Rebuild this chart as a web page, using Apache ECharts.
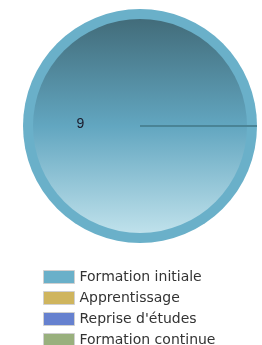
<!DOCTYPE html>
<html>
<head>
<meta charset="utf-8">
<script src="https://cdn.jsdelivr.net/npm/echarts@6/dist/echarts.min.js"></script>
<style>
  html, body { margin: 0; padding: 0; background: #fff; }
  #chart { width: 262px; height: 345px; }
</style>
</head>
<body>
<div id="chart"></div>
<script>
var categories = ['Formation initiale', 'Apprentissage', "Reprise d'études", 'Formation continue'];
var values = [9, 0, 0, 0];
var colors = ['#6ab0c9', '#cfb55e', '#6681cf', '#99b07d'];

document.addEventListener('DOMContentLoaded', function()
{
  var chart = echarts.init(document.getElementById('chart'));

  var gradient = new echarts.graphic.LinearGradient(0, 0, 0, 1, [
    { offset: 0, color: '#426c7a' },
    { offset: 0.5, color: '#62a6c0' },
    { offset: 1, color: '#bfe1eb' }
  ]);

  // outer ring, carries the legend colours
  var ringData = categories.map(function(name, i) {
    return {
      name: name,
      value: values[i],
      itemStyle: {
        color: colors[i],
        borderColor: values[i] === 0 ? '#4b8395' : 'transparent',
        borderWidth: values[i] === 0 ? 1 : 0
      }
    };
  });

  // inner disc with the gradient
  var discData = categories.map(function(name, i) {
    return {
      name: name,
      value: values[i],
      itemStyle: {
        color: i === 0 ? gradient : colors[i],
        borderColor: values[i] === 0 ? '#4b8395' : 'transparent',
        borderWidth: values[i] === 0 ? 1 : 0
      },
      label: { show: values[i] !== 0 }
    };
  });

  var option = {
    animation: false,
    legend: {
      orient: 'vertical',
      left: 43,
      top: 270,
      height: 120,
      padding: 0,
      icon: 'rect',
      itemWidth: 31,
      itemHeight: 13,
      itemGap: 7,
      data: categories,
      itemStyle: { borderColor: '#d0d0d0', borderWidth: 1 },
      textStyle: { fontFamily: 'DejaVu Sans', fontSize: 14, lineHeight: 14, color: '#333' }
    },
    series: [
      {
        type: 'pie',
        center: [140, 126],
        radius: [0, 117],
        startAngle: 0,
        clockwise: true,
        silent: true,
        label: { show: false },
        labelLine: { show: false },
        data: ringData
      },
      {
        type: 'pie',
        center: [140, 126],
        radius: [0, 107],
        startAngle: 0,
        clockwise: true,
        silent: true,
        label: {
          position: 'inside',
          offset: [-3, -2],
          formatter: '{c}',
          fontFamily: 'Liberation Sans',
          fontSize: 14,
          color: '#1a1a2a'
        },
        labelLine: { show: false },
        data: discData
      }
    ]
  };

  chart.setOption(option);
});
</script>
</body>
</html>
